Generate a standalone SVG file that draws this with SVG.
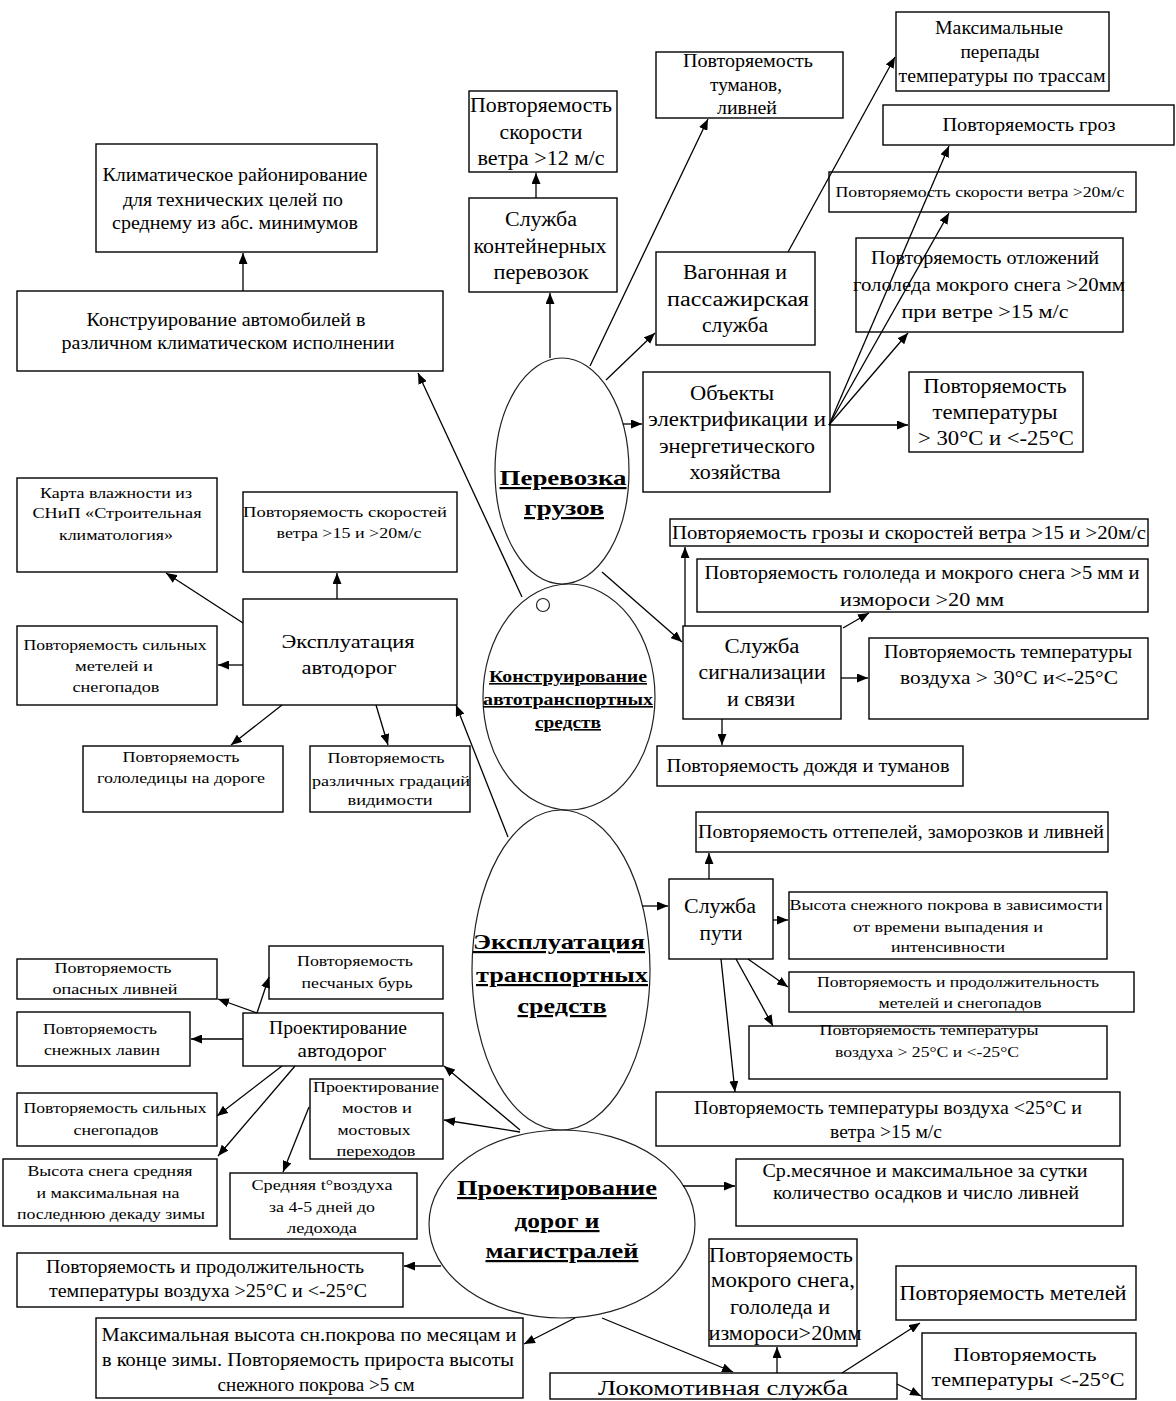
<svg xmlns="http://www.w3.org/2000/svg" width="1176" height="1401" viewBox="0 0 1176 1401">
<style>
.bg{fill:#fff}
.box{fill:none;stroke:#000;stroke-width:1.4}
.ell{fill:none;stroke:#222;stroke-width:1.2}
text{font-family:"Liberation Serif","Times New Roman",serif;fill:#000;text-anchor:middle}
.l{font-size:20px}
.m{font-size:18px}
.s{font-size:15px}
.e{font-size:22px;font-weight:bold;text-decoration:underline}
.e2{font-size:16px;font-weight:bold;text-decoration:underline}
.c line,.c path{stroke:#000;stroke-width:1.3;fill:none;marker-end:url(#ah)}
</style>
<defs>
<marker id="ah" viewBox="0 0 11 9" refX="11" refY="4.5" markerWidth="11" markerHeight="9" markerUnits="userSpaceOnUse" orient="auto"><path d="M0,0L11,4.5L0,9z" fill="#000"/></marker>
</defs>
<rect class="bg" x="0" y="0" width="1176" height="1401"/>

<g id="ell1"><ellipse class="ell" cx="562" cy="471" rx="67" ry="113"/>
<text class="e" x="563" y="485" textLength="127" lengthAdjust="spacingAndGlyphs">Перевозка</text>
<text class="e" x="564" y="515" textLength="80" lengthAdjust="spacingAndGlyphs">грузов</text></g>
<g id="ell2"><ellipse class="ell" cx="569" cy="697" rx="86" ry="113"/>
<circle class="ell" cx="543" cy="605" r="6.5"/>
<text class="e2" x="568" y="682" textLength="158" lengthAdjust="spacingAndGlyphs">Конструирование</text>
<text class="e2" x="568" y="705" textLength="170" lengthAdjust="spacingAndGlyphs">автотранспортных</text>
<text class="e2" x="568" y="728" textLength="66" lengthAdjust="spacingAndGlyphs">средств</text></g>
<g id="ell3"><ellipse class="ell" cx="561" cy="970" rx="89" ry="160"/>
<text class="e" x="559" y="949" textLength="172" lengthAdjust="spacingAndGlyphs">Эксплуатация</text>
<text class="e" x="562" y="982" textLength="172" lengthAdjust="spacingAndGlyphs">транспортных</text>
<text class="e" x="562" y="1013" textLength="89" lengthAdjust="spacingAndGlyphs">средств</text></g>
<g id="ell4"><ellipse class="ell" cx="562" cy="1224" rx="133" ry="94"/>
<text class="e" x="557" y="1195" textLength="200" lengthAdjust="spacingAndGlyphs">Проектирование</text>
<text class="e" x="557" y="1228" textLength="85" lengthAdjust="spacingAndGlyphs">дорог и</text>
<text class="e" x="562" y="1258" textLength="153" lengthAdjust="spacingAndGlyphs">магистралей</text></g>

<g id="nA"><rect class="box" x="96" y="144" width="281" height="108"/>
<text class="m" x="235" y="181" textLength="265" lengthAdjust="spacingAndGlyphs">Климатическое районирование</text>
<text class="m" x="233" y="206" textLength="220" lengthAdjust="spacingAndGlyphs">для технических целей по</text>
<text class="m" x="235" y="229" textLength="246" lengthAdjust="spacingAndGlyphs">среднему из абс. минимумов</text></g>
<g id="nB"><rect class="box" x="17" y="291" width="426" height="80"/>
<text class="m" x="226" y="326" textLength="279" lengthAdjust="spacingAndGlyphs">Конструирование автомобилей в</text>
<text class="m" x="228" y="349" textLength="333" lengthAdjust="spacingAndGlyphs">различном климатическом исполнении</text></g>
<g id="nC"><rect class="box" x="469" y="91" width="148" height="81"/>
<text class="l" x="541" y="112" textLength="142" lengthAdjust="spacingAndGlyphs">Повторяемость</text>
<text class="l" x="541" y="139" textLength="83" lengthAdjust="spacingAndGlyphs">скорости</text>
<text class="l" x="541" y="165" textLength="127" lengthAdjust="spacingAndGlyphs">ветра &gt;12 м/с</text></g>
<g id="nD"><rect class="box" x="469" y="198" width="148" height="94"/>
<text class="l" x="541" y="226" textLength="72" lengthAdjust="spacingAndGlyphs">Служба</text>
<text class="l" x="540" y="253" textLength="133" lengthAdjust="spacingAndGlyphs">контейнерных</text>
<text class="l" x="541" y="279" textLength="95" lengthAdjust="spacingAndGlyphs">перевозок</text></g>
<g id="nE"><rect class="box" x="656" y="52" width="187" height="66"/>
<text class="m" x="748" y="67" textLength="130" lengthAdjust="spacingAndGlyphs">Повторяемость</text>
<text class="m" x="746" y="91" textLength="72" lengthAdjust="spacingAndGlyphs">туманов,</text>
<text class="m" x="747" y="114" textLength="60" lengthAdjust="spacingAndGlyphs">ливней</text></g>
<g id="nF"><rect class="box" x="896" y="12" width="213" height="79"/>
<text class="m" x="999" y="34" textLength="128" lengthAdjust="spacingAndGlyphs">Максимальные</text>
<text class="m" x="1000" y="58" textLength="79" lengthAdjust="spacingAndGlyphs">перепады</text>
<text class="m" x="1002" y="82" textLength="207" lengthAdjust="spacingAndGlyphs">температуры по трассам</text></g>
<g id="nG"><rect class="box" x="883" y="105" width="291" height="40"/>
<text class="m" x="1029" y="131" textLength="173" lengthAdjust="spacingAndGlyphs">Повторяемость гроз</text></g>
<g id="nH"><rect class="box" x="829" y="172" width="307" height="40"/>
<text class="s" x="980" y="197" textLength="289" lengthAdjust="spacingAndGlyphs">Повторяемость скорости ветра &gt;20м/с</text></g>
<g id="nI"><rect class="box" x="656" y="252" width="159" height="93"/>
<text class="l" x="735" y="279" textLength="104" lengthAdjust="spacingAndGlyphs">Вагонная и</text>
<text class="l" x="738" y="306" textLength="142" lengthAdjust="spacingAndGlyphs">пассажирская</text>
<text class="l" x="735" y="332" textLength="66" lengthAdjust="spacingAndGlyphs">служба</text></g>
<g id="nJ"><rect class="box" x="856" y="238" width="267" height="94"/>
<text class="m" x="985" y="264" textLength="228" lengthAdjust="spacingAndGlyphs">Повторяемость отложений</text>
<text class="m" x="989" y="291" textLength="272" lengthAdjust="spacingAndGlyphs">гололеда мокрого снега &gt;20мм</text>
<text class="m" x="985" y="318" textLength="167" lengthAdjust="spacingAndGlyphs">при ветре &gt;15 м/с</text></g>
<g id="nK"><rect class="box" x="643" y="372" width="187" height="120"/>
<text class="l" x="732" y="400" textLength="84" lengthAdjust="spacingAndGlyphs">Объекты</text>
<text class="l" x="737" y="426" textLength="178" lengthAdjust="spacingAndGlyphs">электрификации и</text>
<text class="l" x="737" y="453" textLength="156" lengthAdjust="spacingAndGlyphs">энергетического</text>
<text class="l" x="735" y="479" textLength="91" lengthAdjust="spacingAndGlyphs">хозяйства</text></g>
<g id="nL"><rect class="box" x="909" y="372" width="174" height="80"/>
<text class="l" x="995" y="393" textLength="143" lengthAdjust="spacingAndGlyphs">Повторяемость</text>
<text class="l" x="995" y="419" textLength="125" lengthAdjust="spacingAndGlyphs">температуры</text>
<text class="l" x="996" y="445" textLength="156" lengthAdjust="spacingAndGlyphs">&gt; 30°C и  &lt;-25°C</text></g>
<g id="nM"><rect class="box" x="17" y="478" width="200" height="94"/>
<text class="s" x="116" y="498" textLength="152" lengthAdjust="spacingAndGlyphs">Карта влажности из</text>
<text class="s" x="117" y="518" textLength="169" lengthAdjust="spacingAndGlyphs">СНиП «Строительная</text>
<text class="s" x="116" y="540" textLength="114" lengthAdjust="spacingAndGlyphs">климатология»</text></g>
<g id="nN"><rect class="box" x="243" y="492" width="214" height="80"/>
<text class="s" x="345" y="517" textLength="204" lengthAdjust="spacingAndGlyphs">Повторяемость  скоростей</text>
<text class="s" x="349" y="538" textLength="145" lengthAdjust="spacingAndGlyphs">ветра &gt;15 и &gt;20м/с</text></g>
<g id="nO"><rect class="box" x="243" y="599" width="214" height="106"/>
<text class="m" x="348" y="648" textLength="133" lengthAdjust="spacingAndGlyphs">Эксплуатация</text>
<text class="m" x="349" y="674" textLength="95" lengthAdjust="spacingAndGlyphs">автодорог</text></g>
<g id="nP"><rect class="box" x="17" y="626" width="200" height="79"/>
<text class="s" x="115" y="650" textLength="183" lengthAdjust="spacingAndGlyphs">Повторяемость сильных</text>
<text class="s" x="114" y="671" textLength="78" lengthAdjust="spacingAndGlyphs">метелей и</text>
<text class="s" x="116" y="692" textLength="87" lengthAdjust="spacingAndGlyphs">снегопадов</text></g>
<g id="nQ"><rect class="box" x="83" y="746" width="200" height="66"/>
<text class="s" x="181" y="762" textLength="117" lengthAdjust="spacingAndGlyphs">Повторяемость</text>
<text class="s" x="181" y="783" textLength="168" lengthAdjust="spacingAndGlyphs">гололедицы на дороге</text></g>
<g id="nR"><rect class="box" x="310" y="746" width="160" height="66"/>
<text class="s" x="386" y="763" textLength="117" lengthAdjust="spacingAndGlyphs">Повторяемость</text>
<text class="s" x="391" y="786" textLength="158" lengthAdjust="spacingAndGlyphs">различных градаций</text>
<text class="s" x="390" y="805" textLength="85" lengthAdjust="spacingAndGlyphs">видимости</text></g>
<g id="nS"><rect class="box" x="670" y="519" width="478" height="27"/>
<text class="m" x="909" y="539" textLength="474" lengthAdjust="spacingAndGlyphs">Повторяемость грозы и скоростей  ветра &gt;15 и &gt;20м/с</text></g>
<g id="nT"><rect class="box" x="697" y="559" width="451" height="53"/>
<text class="m" x="922" y="579" textLength="435" lengthAdjust="spacingAndGlyphs">Повторяемость гололеда и мокрого снега &gt;5 мм и</text>
<text class="m" x="922" y="606" textLength="164" lengthAdjust="spacingAndGlyphs">измороси &gt;20 мм</text></g>
<g id="nU"><rect class="box" x="683" y="626" width="158" height="93"/>
<text class="l" x="762" y="653" textLength="75" lengthAdjust="spacingAndGlyphs">Служба</text>
<text class="l" x="762" y="679" textLength="127" lengthAdjust="spacingAndGlyphs">сигнализации</text>
<text class="l" x="761" y="706" textLength="68" lengthAdjust="spacingAndGlyphs">и связи</text></g>
<g id="nV"><rect class="box" x="869" y="638" width="279" height="81"/>
<text class="m" x="1008" y="658" textLength="248" lengthAdjust="spacingAndGlyphs">Повторяемость температуры</text>
<text class="m" x="1009" y="684" textLength="218" lengthAdjust="spacingAndGlyphs">воздуха &gt; 30°C и&lt;-25°C</text></g>
<g id="nW"><rect class="box" x="657" y="746" width="306" height="40"/>
<text class="m" x="808" y="772" textLength="283" lengthAdjust="spacingAndGlyphs">Повторяемость дождя  и туманов</text></g>
<g id="nX"><rect class="box" x="696" y="812" width="412" height="40"/>
<text class="m" x="901" y="838" textLength="406" lengthAdjust="spacingAndGlyphs">Повторяемость оттепелей, заморозков и ливней</text></g>
<g id="nY"><rect class="box" x="669" y="879" width="104" height="80"/>
<text class="l" x="720" y="913" textLength="72" lengthAdjust="spacingAndGlyphs">Служба</text>
<text class="l" x="721" y="940" textLength="43" lengthAdjust="spacingAndGlyphs">пути</text></g>
<g id="nZ"><rect class="box" x="789" y="892" width="318" height="67"/>
<text class="s" x="946" y="910" textLength="313" lengthAdjust="spacingAndGlyphs">Высота снежного покрова  в зависимости</text>
<text class="s" x="948" y="932" textLength="190" lengthAdjust="spacingAndGlyphs">от  времени выпадения и</text>
<text class="s" x="948" y="952" textLength="114" lengthAdjust="spacingAndGlyphs">интенсивности</text></g>
<g id="nAA"><rect class="box" x="789" y="972" width="345" height="40"/>
<text class="s" x="958" y="987" textLength="282" lengthAdjust="spacingAndGlyphs">Повторяемость и продолжительность</text>
<text class="s" x="960" y="1008" textLength="163" lengthAdjust="spacingAndGlyphs">метелей и снегопадов</text></g>
<g id="nAB"><rect class="box" x="749" y="1026" width="358" height="53"/>
<text class="s" x="929" y="1035" textLength="219" lengthAdjust="spacingAndGlyphs">Повторяемость температуры</text>
<text class="s" x="927" y="1057" textLength="184" lengthAdjust="spacingAndGlyphs">воздуха &gt; 25°C и &lt;-25°C</text></g>
<g id="nAC"><rect class="box" x="656" y="1092" width="464" height="54"/>
<text class="m" x="888" y="1114" textLength="388" lengthAdjust="spacingAndGlyphs">Повторяемость температуры воздуха &lt;25°C и</text>
<text class="m" x="886" y="1138" textLength="112" lengthAdjust="spacingAndGlyphs">ветра &gt;15 м/с</text></g>
<g id="nAD"><rect class="box" x="736" y="1159" width="387" height="67"/>
<text class="m" x="925" y="1177" textLength="325" lengthAdjust="spacingAndGlyphs">Ср.месячное и максимальное за сутки</text>
<text class="m" x="926" y="1199" textLength="306" lengthAdjust="spacingAndGlyphs">количество осадков и число ливней</text></g>
<g id="nAE"><rect class="box" x="709" y="1239" width="148" height="107"/>
<text class="l" x="781" y="1262" textLength="144" lengthAdjust="spacingAndGlyphs">Повторяемость</text>
<text class="l" x="783" y="1287" textLength="144" lengthAdjust="spacingAndGlyphs">мокрого снега,</text>
<text class="l" x="780" y="1314" textLength="100" lengthAdjust="spacingAndGlyphs">гололеда и</text>
<text class="l" x="785" y="1340" textLength="153" lengthAdjust="spacingAndGlyphs">измороси&gt;20мм</text></g>
<g id="nAF"><rect class="box" x="896" y="1266" width="240" height="54"/>
<text class="l" x="1013" y="1300" textLength="227" lengthAdjust="spacingAndGlyphs">Повторяемость метелей</text></g>
<g id="nAG"><rect class="box" x="922" y="1333" width="214" height="66"/>
<text class="m" x="1025" y="1361" textLength="143" lengthAdjust="spacingAndGlyphs">Повторяемость</text>
<text class="m" x="1028" y="1386" textLength="193" lengthAdjust="spacingAndGlyphs">температуры &lt;-25°C</text></g>
<g id="nAH"><rect class="box" x="550" y="1373" width="347" height="26"/>
<text class="l" x="723" y="1395" textLength="250" lengthAdjust="spacingAndGlyphs">Локомотивная служба</text></g>
<g id="nAI"><rect class="box" x="17" y="959" width="200" height="40"/>
<text class="s" x="113" y="973" textLength="117" lengthAdjust="spacingAndGlyphs">Повторяемость</text>
<text class="s" x="115" y="994" textLength="125" lengthAdjust="spacingAndGlyphs">опасных ливней</text></g>
<g id="nAJ"><rect class="box" x="269" y="946" width="174" height="53"/>
<text class="s" x="355" y="966" textLength="116" lengthAdjust="spacingAndGlyphs">Повторяемость</text>
<text class="s" x="357" y="988" textLength="111" lengthAdjust="spacingAndGlyphs">песчаных бурь</text></g>
<g id="nAK"><rect class="box" x="243" y="1013" width="200" height="53"/>
<text class="m" x="338" y="1034" textLength="138" lengthAdjust="spacingAndGlyphs">Проектирование</text>
<text class="m" x="342" y="1057" textLength="89" lengthAdjust="spacingAndGlyphs">автодорог</text></g>
<g id="nAL"><rect class="box" x="17" y="1012" width="173" height="54"/>
<text class="s" x="100" y="1034" textLength="114" lengthAdjust="spacingAndGlyphs">Повторяемость</text>
<text class="s" x="102" y="1055" textLength="116" lengthAdjust="spacingAndGlyphs">снежных лавин</text></g>
<g id="nAM"><rect class="box" x="17" y="1093" width="200" height="53"/>
<text class="s" x="115" y="1113" textLength="183" lengthAdjust="spacingAndGlyphs">Повторяемость сильных</text>
<text class="s" x="116" y="1135" textLength="85" lengthAdjust="spacingAndGlyphs">снегопадов</text></g>
<g id="nAN"><rect class="box" x="3" y="1159" width="214" height="67"/>
<text class="s" x="110" y="1176" textLength="165" lengthAdjust="spacingAndGlyphs">Высота снега средняя</text>
<text class="s" x="108" y="1198" textLength="143" lengthAdjust="spacingAndGlyphs">и максимальная на</text>
<text class="s" x="111" y="1219" textLength="188" lengthAdjust="spacingAndGlyphs">последнюю декаду зимы</text></g>
<g id="nAO"><rect class="box" x="310" y="1079" width="133" height="80"/>
<text class="s" x="376" y="1092" textLength="126" lengthAdjust="spacingAndGlyphs">Проектирование</text>
<text class="s" x="377" y="1113" textLength="70" lengthAdjust="spacingAndGlyphs">мостов и</text>
<text class="s" x="374" y="1135" textLength="73" lengthAdjust="spacingAndGlyphs">мостовых</text>
<text class="s" x="376" y="1156" textLength="79" lengthAdjust="spacingAndGlyphs">переходов</text></g>
<g id="nAP"><rect class="box" x="230" y="1173" width="187" height="66"/>
<text class="s" x="322" y="1190" textLength="141" lengthAdjust="spacingAndGlyphs">Средняя t°воздуха</text>
<text class="s" x="322" y="1212" textLength="106" lengthAdjust="spacingAndGlyphs">за 4-5 дней до</text>
<text class="s" x="322" y="1233" textLength="70" lengthAdjust="spacingAndGlyphs">ледохода</text></g>
<g id="nAQ"><rect class="box" x="17" y="1253" width="386" height="54"/>
<text class="m" x="205" y="1273" textLength="318" lengthAdjust="spacingAndGlyphs">Повторяемость и продолжительность</text>
<text class="m" x="208" y="1297" textLength="318" lengthAdjust="spacingAndGlyphs">температуры воздуха &gt;25°C и &lt;-25°C</text></g>
<g id="nAR"><rect class="box" x="96" y="1318" width="427" height="80"/>
<text class="m" x="309" y="1341" textLength="415" lengthAdjust="spacingAndGlyphs">Максимальная высота  сн.покрова по месяцам и</text>
<text class="m" x="308" y="1366" textLength="412" lengthAdjust="spacingAndGlyphs">в конце зимы. Повторяемость прироста  высоты</text>
<text class="m" x="316" y="1391" textLength="197" lengthAdjust="spacingAndGlyphs">снежного покрова  &gt;5 см</text></g>

<g id="connectors" class="c">
<line x1="243" y1="291" x2="243" y2="253"/>
<line x1="550" y1="358" x2="550" y2="293"/>
<line x1="536" y1="198" x2="536" y2="173"/>
<line x1="590" y1="366" x2="708" y2="119"/>
<line x1="606" y1="380" x2="655" y2="333"/>
<line x1="788" y1="252" x2="895" y2="57"/>
<line x1="623" y1="424" x2="642" y2="424"/>
<line x1="829" y1="425" x2="949" y2="146"/>
<line x1="829" y1="425" x2="949" y2="213"/>
<line x1="829" y1="425" x2="908" y2="333"/>
<line x1="829" y1="425" x2="908" y2="425"/>
<line x1="522" y1="597" x2="418" y2="373"/>
<line x1="602" y1="572" x2="682" y2="642"/>
<line x1="685" y1="626" x2="685" y2="547"/>
<line x1="843" y1="628" x2="869" y2="613"/>
<line x1="841" y1="678" x2="868" y2="678"/>
<line x1="722" y1="719" x2="722" y2="745"/>
<line x1="337" y1="599" x2="337" y2="573"/>
<line x1="243" y1="623" x2="166" y2="573"/>
<line x1="243" y1="665" x2="218" y2="665"/>
<line x1="282" y1="705" x2="231" y2="745"/>
<line x1="376" y1="705" x2="388" y2="745"/>
<line x1="508" y1="837" x2="456" y2="705"/>
<line x1="642" y1="906" x2="668" y2="906"/>
<line x1="709" y1="879" x2="709" y2="853"/>
<line x1="773" y1="920" x2="788" y2="920"/>
<line x1="748" y1="959" x2="788" y2="987"/>
<line x1="736" y1="959" x2="773" y2="1026"/>
<line x1="721" y1="959" x2="735" y2="1092"/>
<line x1="683" y1="1186" x2="735" y2="1186"/>
<line x1="602" y1="1318" x2="733" y2="1372"/>
<line x1="777" y1="1373" x2="777" y2="1347"/>
<line x1="842" y1="1373" x2="920" y2="1323"/>
<line x1="897" y1="1384" x2="921" y2="1396"/>
<line x1="520" y1="1130" x2="444" y2="1066"/>
<line x1="520" y1="1132" x2="444" y2="1120"/>
<line x1="441" y1="1266" x2="404" y2="1266"/>
<line x1="575" y1="1318" x2="524" y2="1344"/>
<line x1="257" y1="1013" x2="218" y2="999"/>
<line x1="257" y1="1013" x2="269" y2="977"/>
<line x1="243" y1="1039" x2="191" y2="1039"/>
<line x1="282" y1="1066" x2="217" y2="1116"/>
<line x1="295" y1="1066" x2="218" y2="1156"/>
<line x1="309" y1="1107" x2="283" y2="1172"/>
</g>
</svg>
